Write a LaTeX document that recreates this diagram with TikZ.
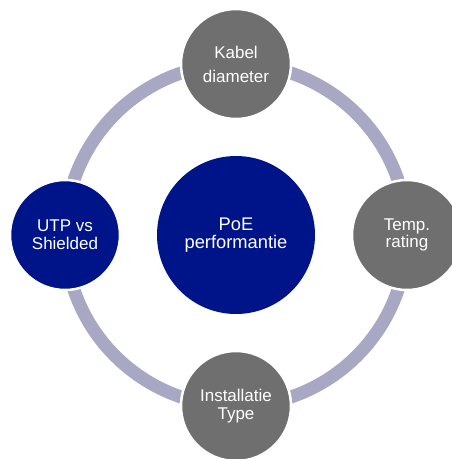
\documentclass[tikz,border=0pt]{standalone}
\usepackage{fontspec}
\setmainfont{Liberation Sans}
\definecolor{navyc}{HTML}{00148A}
\definecolor{grayc}{HTML}{6F6F6F}
\definecolor{ringc}{HTML}{A8A8C5}
\begin{document}
\begin{tikzpicture}[x=1pt,y=-1pt,
  sat/.style={circle, minimum size=110pt, inner sep=0pt, draw=white, line width=2.5pt,
    text=white, align=center, font=\fontsize{17}{17.6}\selectfont},
  graysat/.style={sat, fill=grayc},
  navysat/.style={sat, fill=navyc},
  hub/.style={circle, minimum size=158pt, inner sep=0pt, fill=navyc, text=white,
    align=center, font=\fontsize{18.3}{18.4}\selectfont},
  ring/.style={draw=ringc, line width=13pt}]
\useasboundingbox (0,0) rectangle (452,459);
\clip (0,0) rectangle (452,459);
\coordinate (c) at (236,235);
\draw[ring] (c) circle[radius=171];
\node[hub] (hub) at (c) {PoE\\performantie};
\node[graysat, font=\fontsize{17}{24}\selectfont] (top) at (236,64) {Kabel\\diameter};
\node[graysat] (right) at (407,235) {Temp.\\rating};
\node[graysat] (bottom) at (236,406) {Installatie\\Type};
\node[navysat] (left) at (65,235) {UTP vs\\Shielded};
\end{tikzpicture}
\end{document}
